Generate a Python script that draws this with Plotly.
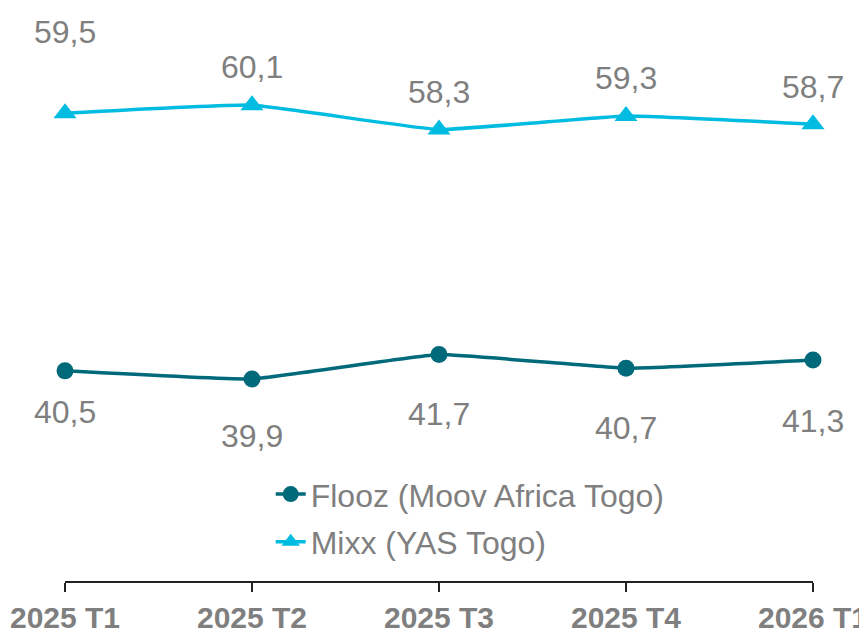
import plotly.graph_objects as go

categories = ["2025 T1", "2025 T2", "2025 T3", "2025 T4", "2026 T1"]
flooz = [40.5, 39.9, 41.7, 40.7, 41.3]
mixx = [59.5, 60.1, 58.3, 59.3, 58.7]
flooz_name = "Flooz (Moov Africa Togo)"
mixx_name = "Mixx (YAS Togo)"

# label offsets in pixels (style)
mixx_shift = [81, 38, 38, 38, 37]
flooz_shift = [-41, -57, -59, -60, -61]

C_FLOOZ = "#006A7A"
C_MIXX = "#00BCE0"
GREY = "#7F7F7F"
FONT = "Liberation Sans, Arial, sans-serif"

fig = go.Figure()
fig.add_trace(go.Scatter(
    x=categories, y=flooz, name=flooz_name, mode="lines+markers",
    line=dict(color=C_FLOOZ, width=3.5, shape="spline", smoothing=0.3),
    marker=dict(symbol="circle", size=17, color=C_FLOOZ),
    cliponaxis=False, legendgroup="a"))
fig.add_trace(go.Scatter(
    x=categories, y=mixx, name=mixx_name, mode="lines+markers",
    line=dict(color=C_MIXX, width=3.5, shape="spline", smoothing=0.3),
    marker=dict(symbol="triangle-up", size=20, color=C_MIXX),
    cliponaxis=False, legendgroup="b"))

def fmt(v):
    return f"{v:.1f}".replace(".", ",")

for c, v, s in zip(categories, mixx, mixx_shift):
    fig.add_annotation(x=c, y=v, text=fmt(v), showarrow=False, yshift=s,
                       font=dict(size=32, color=GREY, family=FONT))
for c, v, s in zip(categories, flooz, flooz_shift):
    fig.add_annotation(x=c, y=v, text=fmt(v), showarrow=False, yshift=s,
                       font=dict(size=32, color=GREY, family=FONT))

fig.update_layout(
    width=859, height=625,
    margin=dict(l=57, r=54, t=2, b=52, autoexpand=False),
    paper_bgcolor="white", plot_bgcolor="white",
    font=dict(family=FONT, color=GREY),
    showlegend=True,
    legend=dict(x=0.275, y=0.20, xanchor="left", yanchor="top",
                font=dict(size=32, color=GREY, family=FONT),
                bgcolor="rgba(0,0,0,0)", tracegroupgap=3),
    xaxis=dict(type="category", range=[0, 4], showline=True, linecolor="#222222",
               linewidth=1.5, ticks="outside", ticklen=9, tickwidth=1.5,
               tickcolor="#222222", showgrid=False, zeroline=False, automargin=False,
               tickfont=dict(size=30, color=GREY, family=FONT, weight="bold")),
    yaxis=dict(range=[25, 67.12], visible=False, showgrid=False, automargin=False),
)

fig.write_html("out.html")
